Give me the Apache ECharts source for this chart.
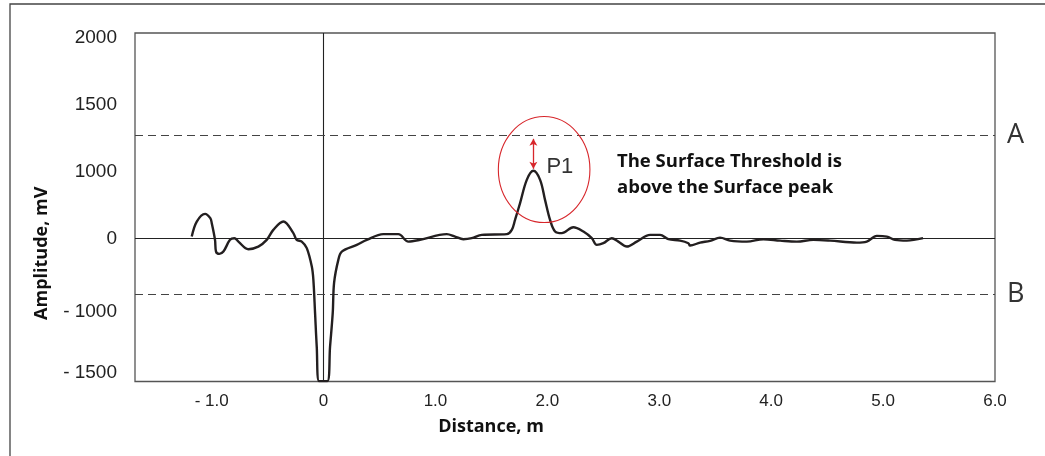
<!DOCTYPE html>
<html>
<head>
<meta charset="utf-8">
<script src="https://cdn.jsdelivr.net/npm/echarts@6.0.0/dist/echarts.min.js"></script>
<style>
html,body{margin:0;padding:0;background:#fff;}
#chart{width:1045px;height:456px;}
</style>
</head>
<body>
<div id="chart"></div>
<script>
// ---- data (schematic display units) ----
const distance = [
  -1.178, -1.133, -1.059, -1.012, -0.999, -0.970, -0.961, -0.931, -0.895, -0.836,
  -0.797, -0.761, -0.672, -0.583, -0.508, -0.449, -0.359, -0.270, -0.240, -0.195,
  -0.150, -0.105, -0.091, -0.076, -0.061, -0.040, 0.034, 0.058, 0.082, 0.094,
  0.132, 0.163, 0.297, 0.386, 0.534, 0.668, 0.758, 0.862, 1.101, 1.175,
  1.249, 1.324, 1.414, 1.637, 1.682, 1.711, 1.756, 1.816, 1.875, 1.935,
  1.979, 2.024, 2.069, 2.129, 2.232, 2.322, 2.397, 2.441, 2.500, 2.576,
  2.634, 2.710, 2.799, 2.918, 3.007, 3.081, 3.186, 3.260, 3.275, 3.365,
  3.454, 3.543, 3.633, 3.782, 3.930, 4.080, 4.229, 4.377, 4.526, 4.765,
  4.854, 4.944, 5.033, 5.107, 5.212, 5.357
];
const amplitude = [
  27, 251, 366, 302, 227, -22, -197, -231, -197, -22,
  3, -48, -161, -122, -22, 127, 251, 78, -22, -48,
  -146, -421, -620, -1112, -1615, -2130, -2130, -1615, -1112, -664,
  -321, -197, -97, -22, 63, 63, -48, -22, 63, 27,
  -12, 3, 52, 63, 127, 276, 526, 873, 1008, 873,
  575, 276, 102, 78, 167, 102, 3, -97, -72, 3,
  -48, -122, -48, 52, 52, -12, -33, -72, -107, -63,
  -37, 12, -33, -48, -12, -33, -48, -22, -33, -63,
  -48, 37, 27, -22, -33, 3
];
const xTickValues = [-1, 0, 1, 2, 3, 4, 5, 6];
const xTickLabels = ['- 1.0', '0', '1.0', '2.0', '3.0', '4.0', '5.0', '6.0'];
const yTickValues = [3000, 2000, 1000, 0, -1100, -2000];
const yTickLabels = ['2000', '1500', '1000', '0', '- 1000', '- 1500'];
const thresholdA = 1535;
const thresholdB = -839;
const peakP1 = [1.875, 1008];
const circleCenter = [1.971, 1027];

const seriesData = distance.map((d, i) => [d, amplitude[i]]);

const chart = echarts.init(document.getElementById('chart'), null, {renderer: 'canvas'});
const tickFont = 'Liberation Sans, Arial, sans-serif';
const boldFont = '"Open Sans", "Noto Sans", sans-serif';

chart.setOption({
  animation: false,
  backgroundColor: '#ffffff',
  grid: {left: 135, right: 50, top: 33, bottom: 74.5, show: true, borderColor: '#555', borderWidth: 1.3, backgroundColor: 'transparent'},
  xAxis: {
    type: 'value', min: -1.685, max: 6,
    name: 'Distance, m', nameLocation: 'middle', nameGap: 36,
    nameTextStyle: {fontFamily: boldFont, fontWeight: 'bold', fontSize: 18, color: '#111', padding: [0, 148, 0, 0]},
    axisLine: {show: false}, axisTick: {show: false}, splitLine: {show: false},
    axisLabel: {
      customValues: xTickValues, margin: 11, fontFamily: tickFont, fontSize: 17, color: '#222',
      formatter: v => { const i = xTickValues.findIndex(t => Math.abs(t - v) < 1e-6); return i >= 0 ? xTickLabels[i] : ''; }
    }
  },
  yAxis: {
    type: 'value', min: -2135, max: 3064,
    name: 'Amplitude, mV', nameLocation: 'middle', nameGap: 84, nameRotate: 90,
    nameTextStyle: {fontFamily: boldFont, fontWeight: 'bold', fontSize: 18, color: '#111', padding: [0, 92, 0, 0]},
    axisLine: {show: false}, axisTick: {show: false}, splitLine: {show: false},
    axisLabel: {
      customValues: yTickValues, margin: 18, fontFamily: tickFont, fontSize: 19, color: '#222',
      formatter: v => { const i = yTickValues.findIndex(t => Math.abs(t - v) < 1e-6); return i >= 0 ? yTickLabels[i] : ''; }
    }
  },
  series: [{
    type: 'line',
    data: seriesData,
    smooth: 0.35,
    symbol: 'none',
    clip: true,
    z: 5,
    lineStyle: {color: '#231f20', width: 2.4},
    markLine: {
      silent: true,
      symbol: 'none',
      z: 3,
      label: {show: false},
      data: [
        {yAxis: 0, lineStyle: {type: 'solid', color: '#222', width: 1.1}},
        {xAxis: 0, lineStyle: {type: 'solid', color: '#222', width: 1.1}},
        {yAxis: thresholdA, lineStyle: {type: [8, 5], color: '#444', width: 1.1},
          label: {show: true, position: 'end', formatter: 'A', distance: 12, fontFamily: '"Open Sans", sans-serif', fontWeight: 'normal', fontSize: 27, color: '#333'}},
        {yAxis: thresholdB, lineStyle: {type: [8, 5], color: '#444', width: 1.1},
          label: {show: true, position: 'end', formatter: 'B', distance: 12, fontFamily: '"Open Sans", sans-serif', fontWeight: 'normal', fontSize: 27, color: '#333'}},
        [
          {coord: [peakP1[0], thresholdA - 50], symbol: 'arrow', symbolSize: [6, 7], lineStyle: {type: 'solid', color: '#d7262b', width: 1.3}},
          {coord: [peakP1[0], peakP1[1] + 30], symbol: 'arrow', symbolSize: [6, 7]}
        ]
      ]
    }
  }]
});

const c = chart.convertToPixel({xAxisIndex: 0, yAxisIndex: 0}, circleCenter);
const p = chart.convertToPixel({xAxisIndex: 0, yAxisIndex: 0}, peakP1);
chart.setOption({
  graphic: [
    {type: 'rect', shape: {x: 10, y: 4, width: 1100, height: 520}, style: {fill: 'none', stroke: '#444', lineWidth: 1.3}, silent: true, z: 0},
    {type: 'ellipse', shape: {cx: c[0], cy: c[1], rx: 45.8, ry: 53}, style: {fill: 'none', stroke: '#d7262b', lineWidth: 1.1}, z: 10},
    {type: 'text', x: p[0] + 13, y: p[1] - 4, style: {text: 'P1', fontFamily: tickFont, fontSize: 22, fill: '#333', verticalAlign: 'middle'}, z: 10},
    {type: 'text', x: 617, y: 148, style: {text: 'The Surface Threshold is\nabove the Surface peak', fontFamily: boldFont, fontWeight: 'bold', fontSize: 18.5, lineHeight: 26.6, fill: '#111'}, z: 10}
  ]
});
</script>
</body>
</html>
